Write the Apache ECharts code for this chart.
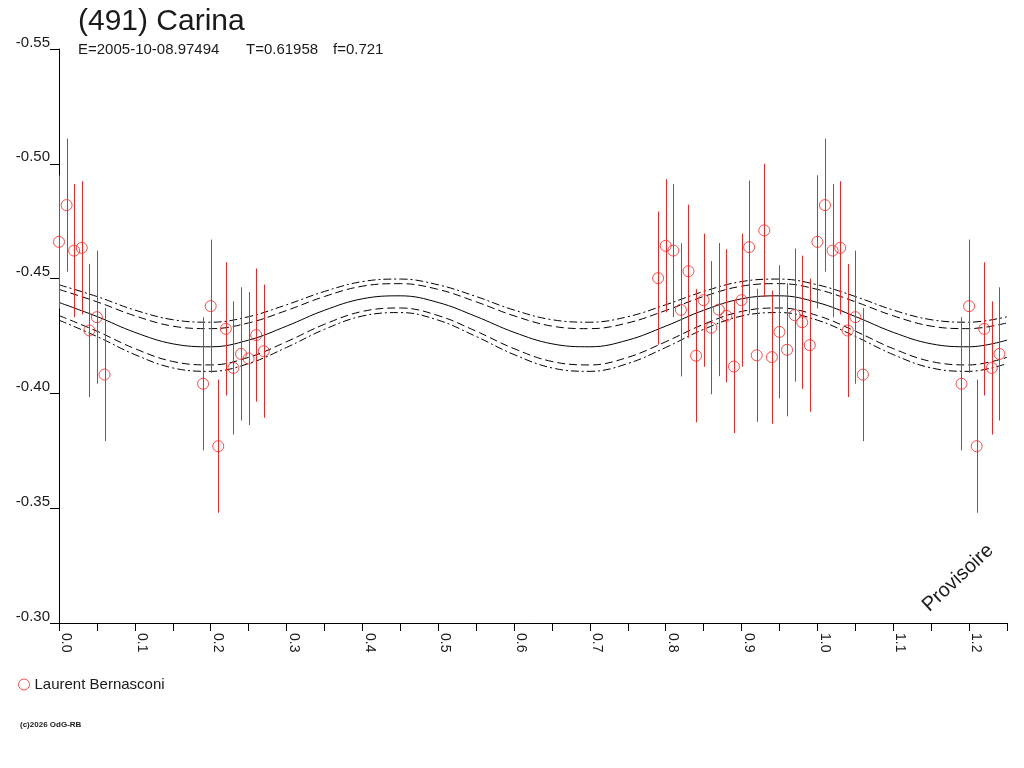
<!DOCTYPE html>
<html>
<head>
<meta charset="utf-8">
<title>(491) Carina</title>
<script src="https://cdn.jsdelivr.net/npm/echarts@6/dist/echarts.min.js"></script>
<style>
    html, body { margin: 0; padding: 0; background: #fff; }
    #container { width: 1024px; height: 768px; }
</style>
</head>
<body>
<div id="container"></div>
<script>
// measured points: phase and magnitude (Laurent Bernasconi)
var obsPhase = [
    0.00, 0.01, 0.02, 0.03, 0.04, 0.05, 0.06,
    0.19, 0.20, 0.21, 0.22, 0.23, 0.24, 0.25, 0.26, 0.27,
    0.79, 0.80, 0.81, 0.82, 0.83, 0.84, 0.85, 0.86, 0.87, 0.88,
    0.89, 0.90, 0.91, 0.92, 0.93, 0.94, 0.95, 0.96, 0.97, 0.98, 0.99,
]
var obsMag = [
    -0.4660, -0.4820, -0.4622, -0.4634, -0.4274, -0.4332, -0.4082,
    -0.4042, -0.4380, -0.3770, -0.4281, -0.4111, -0.4172, -0.4152, -0.4254, -0.4184,
    -0.4502, -0.4643, -0.4622, -0.4364, -0.4532, -0.4164, -0.4406, -0.4286, -0.4365, -0.4338,
    -0.4117, -0.4406, -0.4637, -0.4166, -0.4710, -0.4158, -0.4268, -0.4190, -0.4341, -0.4310, -0.4210,
]
// half length of the error bars (same for every point)
var obsErr = 0.029

// model curve and its two bands, read every 0.05 in phase
var curvePhase = [
    0, 0.05, 0.1, 0.15, 0.2, 0.25, 0.3, 0.35, 0.4, 0.45,
    0.5, 0.55, 0.6, 0.65, 0.7, 0.75, 0.8, 0.85, 0.9, 0.95,
    1.0, 1.05, 1.1, 1.15, 1.2, 1.25,
]
var curveMid = [
    -0.4396, -0.4335, -0.4266, -0.4216, -0.4203, -0.4232, -0.4293, -0.4362, -0.4412, -0.4425,
    -0.4396, -0.4335, -0.4266, -0.4216, -0.4203, -0.4232, -0.4293, -0.4362, -0.4412, -0.4425,
    -0.4396, -0.4335, -0.4266, -0.4216, -0.4203, -0.4232,
]
var curveDashUp = [
    -0.4453, -0.4399, -0.4338, -0.4293, -0.4282, -0.4307, -0.4361, -0.4422, -0.4467, -0.4478,
    -0.4453, -0.4399, -0.4338, -0.4293, -0.4282, -0.4307, -0.4361, -0.4422, -0.4467, -0.4478,
    -0.4453, -0.4399, -0.4338, -0.4293, -0.4282, -0.4307,
]
var curveDashLow = [
    -0.4339, -0.4271, -0.4195, -0.4139, -0.4124, -0.4157, -0.4225, -0.4301, -0.4357, -0.4372,
    -0.4339, -0.4271, -0.4195, -0.4139, -0.4124, -0.4157, -0.4225, -0.4301, -0.4357, -0.4372,
    -0.4339, -0.4271, -0.4195, -0.4139, -0.4124, -0.4157,
]
var curveDotUp = [
    -0.4473, -0.4422, -0.4363, -0.4321, -0.4310, -0.4334, -0.4386, -0.4444, -0.4487, -0.4498,
    -0.4473, -0.4422, -0.4363, -0.4321, -0.4310, -0.4334, -0.4386, -0.4444, -0.4487, -0.4498,
    -0.4473, -0.4422, -0.4363, -0.4321, -0.4310, -0.4334,
]
var curveDotLow = [
    -0.4319, -0.4248, -0.4169, -0.4111, -0.4096, -0.4130, -0.4200, -0.4279, -0.4337, -0.4352,
    -0.4319, -0.4248, -0.4169, -0.4111, -0.4096, -0.4130, -0.4200, -0.4279, -0.4337, -0.4352,
    -0.4319, -0.4248, -0.4169, -0.4111, -0.4096, -0.4130,
]

// the three parts of the line under the title
var subParts = ['E=2005-10-08.97494', 'T=0.61958', 'f=0.721']

var xMax = 1.25
var red = '#f52222'
var ink = '#1a1a1a'
var font = 'Liberation Sans, Arial, sans-serif'

// points are also drawn one period later, as long as they stay on the axis
var foldPoints = function () {
    var res = []
    for (var i = 0; i < obsPhase.length; i++) {
        res.push([obsPhase[i], obsMag[i]])
        var p2 = obsPhase[i] + 1
        if (p2 < xMax - 0.001) {
            res.push([p2, obsMag[i]])
        }
    }
    return res
}

var pairs = function (xs, ys) {
    var res = []
    for (var i = 0; i < xs.length; i++) {
        res.push([xs[i], ys[i]])
    }
    return res
}

var curveSeries = function (ys, dash) {
    return {
        type: 'line',
        data: pairs(curvePhase, ys),
        smooth: 0.4,
        symbol: 'none',
        silent: true,
        z: 2,
        lineStyle: { color: '#000', width: 1, type: dash },
    }
}

var textItem = function (x, y, text, f) {
    return {
        type: 'text', left: x, top: y, silent: true,
        style: { text: text, fill: ink, font: f },
    }
}

var chartInit = function () {
    var dom = document.getElementById('container')
    var myChart = echarts.init(dom, null, { renderer: 'canvas' })
    var points = foldPoints()

    var option = {
        animation: false,
        backgroundColor: '#fff',
        grid: {
            left: 59, right: 17, top: 49, bottom: 145,
            containLabel: false, outerBoundsMode: 'none',
        },
        legend: {
            left: 13, top: 672,
            itemWidth: 11, itemHeight: 11, itemGap: 20,
            selectedMode: false,
            data: [{
                name: 'Laurent Bernasconi',
                icon: 'circle',
                itemStyle: { color: 'rgba(0,0,0,0)', borderColor: red, borderWidth: 1 },
            }],
            textStyle: { fontSize: 15, color: ink, fontFamily: font },
        },
        xAxis: {
            type: 'value',
            min: 0, max: xMax, interval: 0.05,
            splitLine: { show: false },
            axisLine: { onZero: false, lineStyle: { color: '#000', width: 1 } },
            axisTick: { length: 8, lineStyle: { color: '#000' } },
            axisLabel: {
                rotate: -90,
                margin: 10,
                verticalAlign: 'bottom',
                fontSize: 14, color: ink, fontFamily: font,
                showMinLabel: true, showMaxLabel: true,
                formatter: function (v) {
                    var k = Math.round(v * 100)
                    return k % 10 === 0 ? (k / 100).toFixed(1) : ''
                },
            },
        },
        yAxis: {
            type: 'value',
            inverse: true,
            min: -0.55, max: -0.30, interval: 0.05,
            splitLine: { show: false },
            axisLine: { show: true, lineStyle: { color: '#000', width: 1 } },
            axisTick: { show: true, length: 9, lineStyle: { color: '#000' } },
            axisLabel: {
                margin: 9,
                verticalAlign: 'bottom',
                padding: [0, 0, -1, 0],
                fontSize: 15, color: ink, fontFamily: font,
                formatter: function (v) { return v.toFixed(2) },
            },
        },
        graphic: [
            textItem(78, 7, '(491) Carina', '30px ' + font),
            textItem(78, 42, subParts[0], '15px ' + font),
            textItem(246, 42, subParts[1], '15px ' + font),
            textItem(333, 42, subParts[2], '15px ' + font),
            textItem(20, 721, '(c)2026 OdG-RB', 'bold 8px ' + font),
            {
                type: 'text', x: 958, y: 578, rotation: 0.75, silent: true,
                style: {
                    text: 'Provisoire', fill: ink, font: '20px ' + font,
                    align: 'center', verticalAlign: 'middle',
                },
            },
        ],
        series: [
            curveSeries(curveDotUp, [8, 3, 2, 3]),
            curveSeries(curveDashUp, [8, 4]),
            curveSeries(curveMid, 'solid'),
            curveSeries(curveDashLow, [8, 4]),
            curveSeries(curveDotLow, [8, 3, 2, 3]),
            {
                // error bars
                type: 'custom',
                data: points,
                silent: true,
                z: 3,
                renderItem: function (params, api) {
                    var p = api.value(0)
                    var m = api.value(1)
                    var a = api.coord([p, m - obsErr])
                    var b = api.coord([p, m + obsErr])
                    var x = Math.round(a[0]) + 0.5
                    return {
                        type: 'line',
                        shape: { x1: x, y1: a[1], x2: x, y2: b[1] },
                        style: { stroke: red, lineWidth: 1 },
                    }
                },
            },
            {
                name: 'Laurent Bernasconi',
                type: 'scatter',
                data: points,
                symbol: 'circle',
                symbolSize: 11,
                silent: true,
                z: 4,
                itemStyle: { color: 'rgba(0,0,0,0)', borderColor: red, borderWidth: 1 },
            },
        ],
    }

    myChart.setOption(option, true)
}

chartInit()
</script>
</body>
</html>
